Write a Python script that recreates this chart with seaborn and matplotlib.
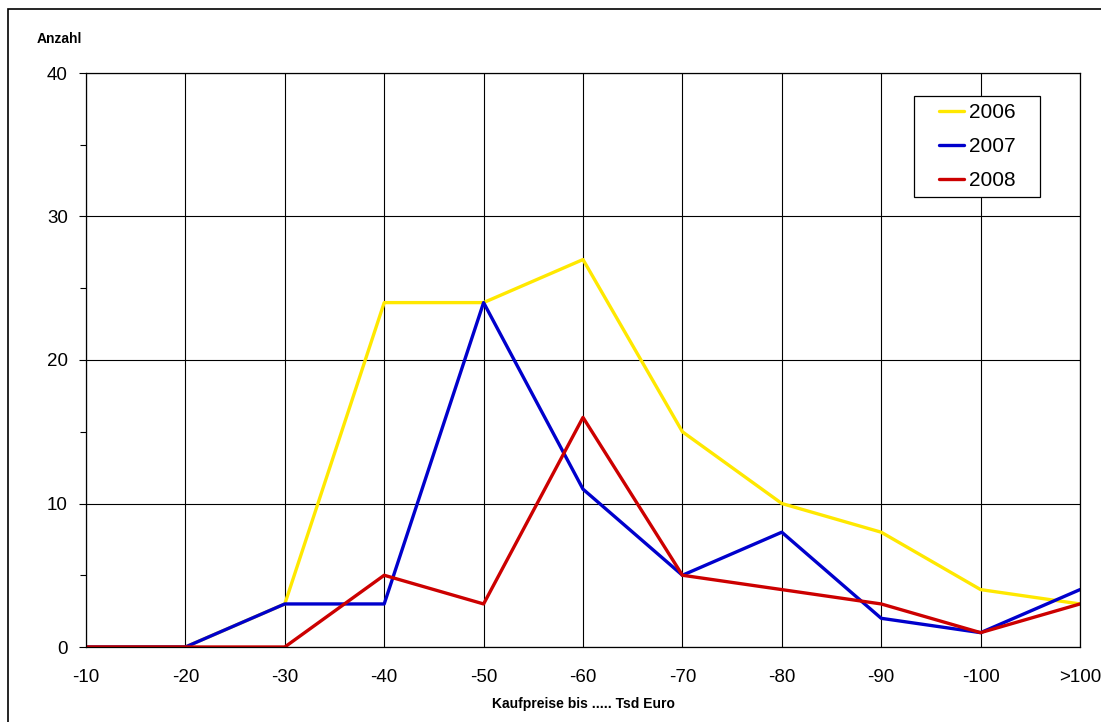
import matplotlib
matplotlib.use("Agg")
import matplotlib.pyplot as plt
import seaborn as sns
import pandas as pd
from matplotlib.patches import Rectangle
from matplotlib.ticker import MultipleLocator

categories = ["-10", "-20", "-30", "-40", "-50", "-60", "-70", "-80", "-90", "-100", ">100"]
years = ["2006", "2007", "2008"]
v2006 = [0, 0, 3, 24, 24, 27, 15, 10, 8, 4, 3]
v2007 = [0, 0, 3, 3, 24, 11, 5, 8, 2, 1, 4]
v2008 = [0, 0, 0, 5, 3, 16, 5, 4, 3, 1, 3]
colors = {"2006": "#FFE800", "2007": "#0000CC", "2008": "#CC0000"}

rows = []
for y, vals in zip(years, [v2006, v2007, v2008]):
    for c, v in zip(categories, vals):
        rows.append({"Kategorie": c, "Anzahl": v, "Jahr": y})
df = pd.DataFrame(rows)

sns.set_style("white")
plt.rcParams["font.family"] = ["Liberation Sans", "DejaVu Sans"]
plt.rcParams["text.color"] = "black"
plt.rcParams["xtick.color"] = "black"
plt.rcParams["ytick.color"] = "black"
plt.rcParams["axes.labelcolor"] = "black"

W, H = 1101, 722
fig = plt.figure(figsize=(W/100, H/100), dpi=100)
ax = fig.add_axes([86/W, 1 - 647/H, (1080-86)/W, (647-73)/H])

sns.lineplot(data=df, x="Kategorie", y="Anzahl", hue="Jahr", palette=colors,
             sort=False, linewidth=2.4, ax=ax, legend=True)

ax.set_xlim(0, len(categories) - 1)
ax.set_ylim(0, 40)
ax.yaxis.set_major_locator(MultipleLocator(10))
ax.yaxis.set_minor_locator(MultipleLocator(5))
ax.set_xticks(range(len(categories)))
ax.set_xticklabels(categories)
ax.grid(True, axis="both", color="black", linewidth=0.8)
ax.set_axisbelow(True)
for s in ax.spines.values():
    s.set_color("black")
    s.set_linewidth(0.9)
    s.set_visible(True)
ax.tick_params(axis="y", which="major", direction="out", length=5, width=0.8,
               color="black", labelsize=13.5, pad=8, left=True, labelcolor="black")
ax.tick_params(axis="y", which="minor", direction="out", length=4, width=0.8,
               color="black", left=True)
ax.tick_params(axis="x", which="major", length=0, labelsize=13.5, pad=16, labelcolor="black")

ax.set_ylabel("")
ax.set_xlabel("Kaufpreise bis ..... Tsd Euro", fontsize=10, fontweight="bold", labelpad=8,
              color="black")
fig.text(37/W, 1 - 39/H, "Anzahl", fontsize=10, fontweight="bold", va="center", ha="left",
         color="black")

# legend box (frame drawn separately to match proportions)
bx0, by0, bx1, by1 = 914, 96, 1040, 197
def ax_coords(px, py):
    return ((px - 86) / (1080 - 86), (647 - py) / (647 - 73))
lx0, ly1 = ax_coords(bx0, by0)
lx1, ly0 = ax_coords(bx1, by1)
ax.add_patch(Rectangle((lx0, ly0), lx1 - lx0, ly1 - ly0, transform=ax.transAxes,
                       facecolor="white", edgecolor="black", linewidth=0.9, zorder=4))
leg = ax.legend(title=None, loc="center", bbox_to_anchor=((lx0 + lx1) / 2, (ly0 + ly1) / 2),
                borderaxespad=0, fontsize=15, frameon=False,
                handlelength=1.2, borderpad=0.2, labelspacing=0.72, handletextpad=0.25)
leg.set_zorder(5)
for t in leg.get_texts():
    t.set_color("black")

fig.patches.append(Rectangle((8/W, -0.1), 1.2, 1 - 9/H + 0.1, transform=fig.transFigure,
                             fill=False, edgecolor="black", linewidth=1.2))

fig.savefig("out.png", dpi=100)
